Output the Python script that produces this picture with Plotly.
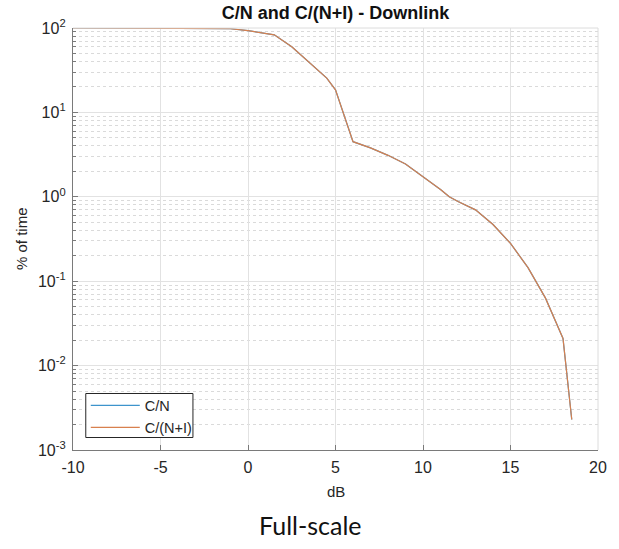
import plotly.graph_objects as go

# Exceedance curves: percentage of time the ratio falls below each level
db = [-10, -8, -6, -4, -2, -1, 0, 1.5, 2.5, 3.5, 4.5, 5, 6, 7, 8, 9, 10,
      11, 11.5, 12, 13, 14, 15, 16, 17, 17.5, 18, 18.5]
cni_pct = [100, 100, 100, 100, 99.8, 98, 93, 83, 60, 39, 25.5, 18.5, 4.5,
           3.8, 3.1, 2.45, 1.75, 1.22, 1.0, 0.88, 0.70, 0.47, 0.28, 0.145,
           0.063, 0.037, 0.021, 0.0023]
cn_pct = list(cni_pct)  # C/N coincides with C/(N+I) on this link

x_ticks = [-10, -5, 0, 5, 10, 15, 20]
x_labels = ["-10", "-5", "0", "5", "10", "15", "20"]
y_ticks = [1e-3, 1e-2, 1e-1, 1e0, 1e1, 1e2]
y_labels = ["10<sup>-3</sup>", "10<sup>-2</sup>", "10<sup>-1</sup>",
            "10<sup>0</sup>", "10<sup>1</sup>", "10<sup>2</sup>"]

AX_FONT = "Liberation Sans, Arial, sans-serif"
TXT = "#262626"
GRID = "#e2e2e2"
AXIS = "#7a7a7a"

# plot-area pixel extents, used to place the legend frame in paper units
L, R, T, B = 73, 607, 28, 450
PW, PH = R - L, B - T

fig = go.Figure()
fig.add_trace(go.Scatter(x=db, y=cn_pct, mode="lines", name="C/N",
                         line=dict(color="#3d94cc", width=1.2)))
fig.add_trace(go.Scatter(x=db, y=cni_pct, mode="lines", name="C/(N+I)",
                         line=dict(color="#d8804e", width=1.2)))

fig.update_layout(
    width=619, height=549,
    margin=dict(l=L, r=619 - R, t=T, b=549 - B),
    paper_bgcolor="white", plot_bgcolor="white",
    font=dict(family=AX_FONT, size=15, color=TXT),
    title=dict(text="<b>C/N and C/(N+I) - Downlink</b>", x=0.5,
               xref="paper", xanchor="center", y=1 - 13 / 549,
               yref="container", yanchor="middle",
               font=dict(family=AX_FONT, size=18, color="#111")),
    showlegend=True,
    legend=dict(x=(86 - L) / PW, y=(B - 443.5) / PH, xanchor="left",
                yanchor="bottom", bgcolor="rgba(255,255,255,0)",
                borderwidth=0,
                font=dict(family=AX_FONT, size=14.5, color=TXT),
                itemwidth=49, tracegroupgap=0),
)

fig.update_xaxes(
    range=[-10, 20], tickmode="array", tickvals=x_ticks, ticktext=x_labels,
    showgrid=True, gridcolor=GRID, gridwidth=1, zeroline=False,
    showline=True, linecolor=AXIS, linewidth=1.3,
    ticks="inside", ticklen=5, tickcolor=AXIS, ticklabelstandoff=3,
    tickfont=dict(size=16, color=TXT),
)
fig.update_yaxes(
    type="log", range=[-3, 2], tickmode="array", tickvals=y_ticks,
    ticktext=y_labels, showgrid=True, gridcolor=GRID, gridwidth=1,
    zeroline=False, showline=True, linecolor=AXIS, linewidth=1.3,
    ticks="inside", ticklen=5, tickcolor=AXIS, ticklabelstandoff=3,
    tickfont=dict(size=16, color=TXT),
    minor=dict(dtick="D1", ticks="inside", ticklen=3, tickcolor=AXIS,
               showgrid=True, gridcolor="#dadada", griddash="dot",
               gridwidth=1),
)

# light frame on the top and right edges of the plot area
fig.add_shape(type="line", xref="paper", yref="paper", x0=0, x1=1, y0=1, y1=1,
              line=dict(color="#dcdcdc", width=1))
fig.add_shape(type="line", xref="paper", yref="paper", x0=1, x1=1, y0=0, y1=1,
              line=dict(color="#dcdcdc", width=1))

# compact legend frame with an opaque white background
fig.add_shape(type="rect", xref="paper", yref="paper", layer="above",
              x0=(86 - L) / PW, x1=(195 - L) / PW,
              y0=(B - 437.5) / PH, y1=(B - 393.5) / PH,
              fillcolor="white", line=dict(color=TXT, width=1))

# axis titles and caption
fig.add_annotation(text="dB", xref="paper", yref="paper", x=0.5, y=0,
                   yshift=-41, yanchor="middle", showarrow=False,
                   font=dict(family=AX_FONT, size=15, color=TXT))
fig.add_annotation(text="% of time", xref="paper", yref="paper", x=0, y=0.5,
                   xshift=-52, xanchor="center", yanchor="middle",
                   textangle=-90, showarrow=False,
                   font=dict(family=AX_FONT, size=15, color=TXT))
fig.add_annotation(text="Full-scale", xref="paper", yref="paper",
                   x=(315 - L) / PW, y=0, yshift=-75, yanchor="middle",
                   xanchor="center", showarrow=False,
                   font=dict(family="Lato, Open Sans, sans-serif", size=25,
                             color="#111"))

fig.write_html("out.html")
